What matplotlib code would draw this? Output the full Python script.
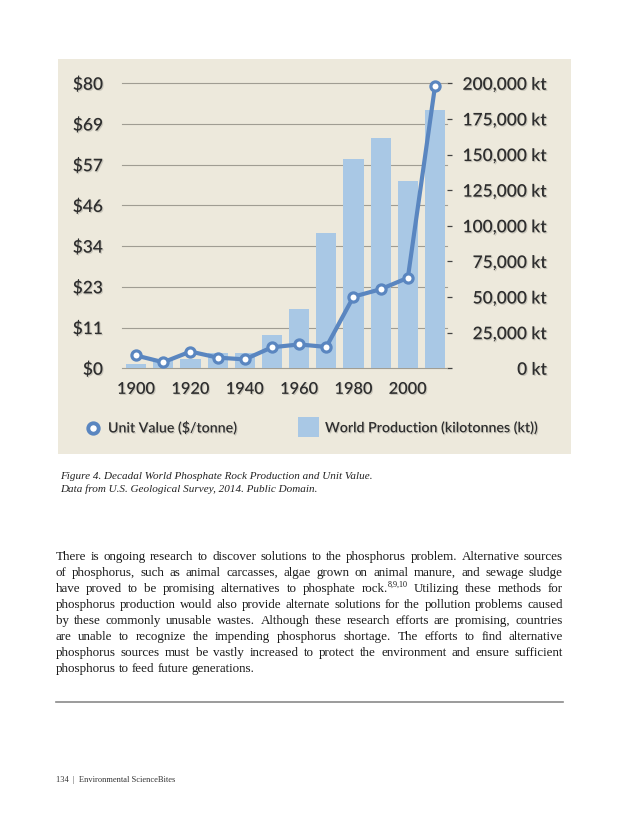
import matplotlib
matplotlib.use('Agg')
import matplotlib.pyplot as plt
import matplotlib.patheffects as pe
from matplotlib.patches import Rectangle
from matplotlib.lines import Line2D
import numpy as np

# ---------------- data ----------------
years = [1900, 1910, 1920, 1930, 1940, 1950, 1960, 1970, 1980, 1990, 2000, 2010]
production_kt = [3100, 5500, 6800, 10500, 10500, 23400, 41900, 95000, 146700, 161600, 131700, 181500]
unit_value = [3.6, 1.7, 4.7, 3.0, 2.5, 5.9, 6.7, 6.0, 20.1, 22.2, 25.4, 79.2]
left_tick_labels = ['$0', '$11', '$23', '$34', '$46', '$57', '$69', '$80']
right_tick_values = [0, 25000, 50000, 75000, 100000, 125000, 150000, 175000, 200000]
right_tick_labels = ['0 kt', '25,000 kt', '50,000 kt', '75,000 kt', '100,000 kt',
                     '125,000 kt', '150,000 kt', '175,000 kt', '200,000 kt']
x_tick_years = [1900, 1920, 1940, 1960, 1980, 2000]
legend_line_label = 'Unit Value ($/tonne)'
legend_bar_label = 'World Production (kilotonnes (kt))'
caption_lines = ['Figure 4. Decadal World Phosphate Rock Production and Unit Value.',
                 'Data from U.S. Geological Survey, 2014. Public Domain.']
body_lines = [
    "There is ongoing research to discover solutions to the phosphorus problem. Alternative sources",
    "of phosphorus, such as animal carcasses, algae grown on animal manure, and sewage sludge",
    "have proved to be promising alternatives to phosphate rock.^8,9,10 Utilizing these methods for",
    "phosphorus production would also provide alternate solutions for the pollution problems caused",
    "by these commonly unusable wastes. Although these research efforts are promising, countries",
    "are unable to recognize the impending phosphorus shortage. The efforts to find alternative",
    "phosphorus sources must be vastly increased to protect the environment and ensure sufficient",
    "phosphorus to feed future generations.",
]
footer_text = '134  |  Environmental ScienceBites'

# ---------------- style ----------------
W, H = 630, 815
PANEL = '#EDE9DC'
BAR = '#A9C8E5'
LINE = '#5A86C0'
GRID = '#A09D93'
TXT = '#2E2E2E'
CH_FONT = 'Lato'
CH_W = 600
SERIF = 'Liberation Serif'
shadow = [pe.withSimplePatchShadow(offset=(0.8, -0.8), shadow_rgbFace='#000000', alpha=0.15)]

fig = plt.figure(figsize=(W / 100, H / 100), dpi=100)
fig.patch.set_facecolor('white')

def fx(x):
    return x / W

def fy(y):
    return 1 - y / H

# panel background
fig.add_artist(Rectangle((fx(58.3), fy(454)), fx(571) - fx(58.3), fy(59) - fy(454),
                         transform=fig.transFigure, facecolor=PANEL, edgecolor='none', zorder=-10))

# axes
left, right, top, bottom = 121.7, 446.7, 83.3, 368.3
rect = [fx(left), fy(bottom), fx(right) - fx(left), fy(top) - fy(bottom)]
ax2 = fig.add_axes(rect)  # bars, right axis
ax = fig.add_axes(rect, sharex=ax2)  # line, left axis
for a in (ax, ax2):
    a.patch.set_visible(False)
    for s in a.spines.values():
        s.set_visible(False)

ax2.bar(years, production_kt, width=7.4, color=BAR, zorder=2)
ax2.set_ylim(0, 200000)
ax2.set_xlim(1894.7, 2014.3)
ax2.yaxis.tick_right()
ax2.yaxis.set_remove_overlapping_locs(False)
ax2.set_yticks(right_tick_values)
ax2.set_yticklabels(right_tick_labels)
ax2.set_yticks(np.linspace(0, 200000, 8), minor=True)
ax2.set_axisbelow(True)
ax2.grid(axis='y', which='minor', color=GRID, lw=0.8, clip_on=False)
ax2.grid(axis='y', which='major', visible=False)
ax2.tick_params(axis='y', which='minor', length=0, labelright=False)
ax2.tick_params(axis='y', which='major', length=3.3, width=0.9, color='#444444',
                pad=69, labelsize=12.5, labelcolor=TXT)
for lab in ax2.get_yticklabels():
    lab.set_ha('right')
    lab.set_fontfamily(CH_FONT)
    lab.set_fontweight(CH_W)
    lab.set_path_effects(shadow)
ax2.tick_params(axis='x', length=0, labelbottom=False)

ax.plot(years, unit_value, color=LINE, lw=3.0, marker='o', ms=6.6, mfc='white',
        mec=LINE, mew=2.3, clip_on=False, zorder=5)
ax.set_ylim(0, 80)
ax.set_yticks(np.linspace(0, 80, 8))
ax.set_yticklabels(left_tick_labels)
ax.tick_params(axis='y', length=0, pad=13.5, labelsize=12.5, labelcolor=TXT)
ax.set_xticks(x_tick_years)
ax.set_xticklabels([str(y) for y in x_tick_years])
ax.tick_params(axis='x', length=0, pad=10.5, labelsize=11.8, labelcolor=TXT)
for lab in ax.get_yticklabels() + ax.get_xticklabels():
    lab.set_fontfamily(CH_FONT)
    lab.set_fontweight(CH_W)
    lab.set_path_effects(shadow)

# legend (manual)
fig.add_artist(Line2D([fx(93.3)], [fy(428)], transform=fig.transFigure, marker='o', ms=7.5,
                      mfc='white', mec=LINE, mew=2.8, ls='none'))
fig.text(fx(108), fy(428), legend_line_label, fontsize=10.2, family=CH_FONT, weight=CH_W,
         color=TXT, va='center', ha='left', path_effects=shadow)
fig.add_artist(Rectangle((fx(298), fy(437)), fx(319) - fx(298), fy(417) - fy(437),
                         transform=fig.transFigure, facecolor=BAR, edgecolor='none'))
fig.text(fx(325), fy(428), legend_bar_label, fontsize=10.2, family=CH_FONT, weight=CH_W,
         color=TXT, va='center', ha='left', path_effects=shadow)

# caption
for i, line in enumerate(caption_lines):
    fig.text(fx(60), fy(479.3 + 13 * i), line, fontsize=8, family=SERIF, style='italic',
             color='#222222', va='baseline', ha='left')

# body text (justified)
fig.canvas.draw()
renderer = fig.canvas.get_renderer()

def measure(s, fs):
    t = fig.text(0, 0, s, fontsize=fs, family=SERIF)
    w = t.get_window_extent(renderer).width
    t.remove()
    return w

BODY_L, BODY_R = 55.5, 563.0
body_w = BODY_R - BODY_L
fs_body = 10.0
widest = max(measure(l.replace('^', ''), fs_body) for l in body_lines)
fs_body = fs_body * (body_w * 0.985) / widest
sup_fs = fs_body * 0.62

def word_width(wd):
    if '^' in wd:
        main, sup = wd.split('^')
        return measure(main, fs_body) + measure(sup, sup_fs)
    return measure(wd, fs_body)

def draw_word(x, ybase, wd):
    if '^' in wd:
        main, sup = wd.split('^')
        fig.text(fx(x), fy(ybase), main, fontsize=fs_body, family=SERIF, color='#1a1a1a',
                 va='baseline', ha='left')
        xm = x + measure(main, fs_body)
        fig.text(fx(xm), fy(ybase - 5), sup, fontsize=sup_fs, family=SERIF,
                 color='#1a1a1a', va='baseline', ha='left')
    else:
        fig.text(fx(x), fy(ybase), wd, fontsize=fs_body, family=SERIF, color='#1a1a1a',
                 va='baseline', ha='left')

space_w = measure('a a', fs_body) - measure('aa', fs_body)
for i, line in enumerate(body_lines):
    ybase = float(round(560.3 + 15.96 * i))
    words = line.split(' ')
    widths = [word_width(w) for w in words]
    if i < len(body_lines) - 1 and len(words) > 1:
        gap = (body_w - sum(widths)) / (len(words) - 1)
    else:
        gap = space_w
    x = BODY_L
    for w, ww in zip(words, widths):
        draw_word(x, ybase, w)
        x += ww + gap

# rule and footer
fig.add_artist(Line2D([fx(55.5), fx(563)], [fy(702.3), fy(702.3)], transform=fig.transFigure,
                      color='#8a8a8a', lw=1.2))
fig.text(fx(55.5), fy(782), footer_text, fontsize=6, family=SERIF, color='#333333',
         va='baseline', ha='left')

fig.savefig('out.png', dpi=100, facecolor='white')
